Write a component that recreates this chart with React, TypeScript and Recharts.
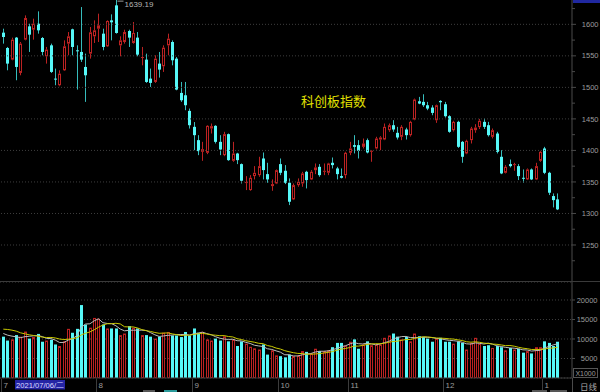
import React from 'react';
import { ComposedChart, Bar, Line, XAxis, YAxis, ReferenceLine, CartesianGrid } from 'recharts';

// Daily candles, 2021-07-01 .. 2022-01-07 (index 0 = first visible day)
const open = [
  1586.8, 1562.5, 1544.0, 1578.9, 1522.9, 1575.7, 1596.8, 1591.5, 1601.0, 1578.3,
  1549.3, 1566.7, 1513.9, 1503.4, 1527.1, 1569.4, 1592.1, 1558.8, 1556.2, 1532.4,
  1553.5, 1581.0, 1593.1, 1585.2, 1565.1, 1606.3, 1630.1, 1566.7, 1572.0, 1589.4,
  1570.4, 1578.9, 1546.7, 1544.0, 1513.9, 1508.6, 1537.7, 1533.5, 1566.7, 1572.0,
  1545.6, 1491.2, 1487.5, 1462.7, 1437.4, 1416.3, 1397.8, 1396.2, 1434.8, 1439.0,
  1413.6, 1392.5, 1425.8, 1383.5, 1395.1, 1378.3, 1348.7, 1337.1, 1359.3, 1360.8,
  1387.2, 1362.4, 1343.4, 1347.6, 1378.3, 1367.7, 1348.7, 1322.3, 1345.0, 1347.6,
  1366.1, 1354.0, 1368.7, 1374.0, 1366.1, 1364.5, 1380.4, 1371.4, 1359.3, 1360.8,
  1396.2, 1408.4, 1408.4, 1405.7, 1416.3, 1397.8, 1403.1, 1417.3, 1417.3, 1432.1,
  1440.0, 1427.9, 1421.6, 1433.2, 1424.2, 1449.0, 1478.0, 1477.0, 1471.7, 1468.0,
  1447.9, 1478.5, 1473.3, 1454.3, 1432.1, 1445.3, 1413.6, 1395.2, 1416.3, 1432.1,
  1437.0, 1445.3, 1440.0, 1421.6, 1426.8, 1389.9, 1364.5, 1378.3, 1376.7, 1375.1,
  1356.6, 1354.0, 1369.8, 1354.0, 1383.5, 1403.1, 1364.5, 1327.6, 1322.3,
];
const high = [
  1593.1, 1564.1, 1578.9, 1579.9, 1572.0, 1614.2, 1601.0, 1609.0, 1620.6, 1579.9,
  1564.1, 1569.4, 1529.8, 1527.1, 1574.6, 1587.8, 1593.1, 1566.7, 1627.4, 1553.5,
  1595.8, 1606.3, 1616.9, 1593.1, 1606.3, 1615.8, 1639.19, 1581.0, 1591.5, 1591.5,
  1603.7, 1587.8, 1564.1, 1553.5, 1529.8, 1550.9, 1556.2, 1566.7, 1585.2, 1574.6,
  1548.2, 1508.6, 1508.6, 1466.4, 1445.0, 1424.2, 1413.6, 1440.0, 1442.7, 1440.0,
  1424.2, 1429.5, 1426.8, 1413.6, 1396.2, 1379.3, 1359.2, 1360.8, 1375.1, 1389.9,
  1396.7, 1380.4, 1354.0, 1369.8, 1387.2, 1376.7, 1355.6, 1347.6, 1355.6, 1366.1,
  1367.7, 1368.8, 1379.3, 1378.3, 1379.3, 1380.4, 1388.8, 1374.0, 1371.4, 1397.8,
  1413.6, 1424.2, 1416.3, 1418.9, 1418.9, 1400.4, 1421.6, 1422.6, 1442.7, 1442.7,
  1448.0, 1437.4, 1440.0, 1436.0, 1447.0, 1482.2, 1484.9, 1489.1, 1477.0, 1471.7,
  1472.7, 1479.6, 1477.0, 1455.8, 1447.0, 1447.0, 1415.0, 1417.0, 1437.4, 1441.6,
  1450.0, 1450.6, 1445.3, 1434.8, 1429.5, 1400.4, 1376.7, 1385.6, 1380.4, 1378.3,
  1369.8, 1371.4, 1371.4, 1380.4, 1399.4, 1405.7, 1366.1, 1331.8, 1331.8,
];
const low = [
  1569.4, 1527.1, 1543.0, 1511.3, 1519.2, 1574.6, 1556.2, 1575.7, 1585.2, 1550.9,
  1537.7, 1522.9, 1503.4, 1501.8, 1526.1, 1550.9, 1550.9, 1496.5, 1540.3, 1477.0,
  1545.6, 1570.4, 1572.0, 1558.8, 1564.1, 1574.6, 1585.2, 1549.3, 1569.4, 1564.1,
  1569.4, 1549.3, 1535.0, 1507.1, 1500.7, 1507.1, 1515.5, 1524.5, 1550.9, 1535.0,
  1495.4, 1477.0, 1463.8, 1434.7, 1400.4, 1392.5, 1383.5, 1394.1, 1426.8, 1411.0,
  1392.5, 1390.9, 1383.5, 1382.0, 1378.3, 1347.6, 1337.1, 1336.0, 1354.0, 1358.2,
  1354.0, 1348.7, 1336.0, 1346.6, 1360.8, 1346.6, 1313.3, 1321.2, 1342.4, 1342.4,
  1339.7, 1353.0, 1362.4, 1358.2, 1360.8, 1360.8, 1371.4, 1354.0, 1355.6, 1355.6,
  1392.5, 1395.2, 1387.2, 1403.1, 1395.2, 1382.0, 1401.5, 1400.4, 1416.3, 1429.5,
  1429.5, 1417.3, 1416.3, 1417.3, 1422.0, 1447.9, 1473.3, 1469.0, 1463.8, 1455.8,
  1443.7, 1463.8, 1452.1, 1428.0, 1430.0, 1404.0, 1380.4, 1394.0, 1411.0, 1428.0,
  1434.0, 1434.0, 1422.0, 1419.0, 1395.2, 1362.4, 1363.5, 1373.0, 1367.7, 1353.0,
  1348.7, 1353.0, 1353.0, 1353.0, 1382.0, 1362.4, 1329.2, 1309.6, 1305.4,
];
const close = [
  1579.9, 1537.7, 1575.7, 1532.4, 1569.4, 1610.0, 1583.6, 1601.0, 1590.5, 1556.2,
  1559.9, 1524.5, 1512.9, 1521.8, 1565.1, 1581.0, 1564.1, 1557.2, 1544.0, 1519.2,
  1587.3, 1590.5, 1598.4, 1564.1, 1605.3, 1603.2, 1586.3, 1574.6, 1587.8, 1578.9,
  1586.3, 1551.9, 1548.2, 1508.6, 1507.1, 1545.6, 1528.2, 1563.0, 1577.3, 1543.0,
  1496.5, 1479.6, 1471.7, 1440.0, 1424.2, 1398.9, 1402.0, 1439.0, 1438.5, 1413.6,
  1401.5, 1425.8, 1384.6, 1395.1, 1384.6, 1351.9, 1349.8, 1356.6, 1364.5, 1375.1,
  1368.8, 1354.0, 1346.6, 1368.7, 1364.5, 1348.7, 1318.6, 1345.0, 1350.3, 1363.5,
  1352.9, 1366.1, 1373.0, 1360.8, 1367.7, 1379.3, 1376.7, 1362.4, 1356.6, 1396.2,
  1403.1, 1405.7, 1399.4, 1411.0, 1396.7, 1399.4, 1418.9, 1420.5, 1437.4, 1440.0,
  1433.2, 1420.5, 1437.4, 1424.2, 1445.3, 1480.7, 1474.3, 1471.7, 1466.4, 1459.5,
  1471.7, 1476.4, 1454.3, 1429.5, 1445.3, 1405.7, 1389.9, 1415.2, 1434.8, 1436.3,
  1447.0, 1437.4, 1424.2, 1432.1, 1397.8, 1363.5, 1374.0, 1375.1, 1378.3, 1359.3,
  1355.6, 1369.8, 1354.0, 1375.1, 1397.8, 1364.5, 1332.9, 1321.2, 1306.5,
];
const volume = [
  10600, 9600, 9900, 11000, 10600, 11900, 10100, 10500, 11300, 9300,
  9600, 9800, 8600, 8200, 9400, 12600, 11600, 12600, 18700, 13700,
  12900, 15400, 15200, 13700, 12700, 12700, 12700, 11000, 11400, 13300,
  12900, 12700, 11000, 11000, 10600, 10100, 10600, 11600, 11800, 10900,
  10900, 10500, 11800, 10900, 12700, 11600, 11800, 9900, 9600, 10100,
  9600, 10700, 9400, 9900, 8200, 9400, 8800, 8000, 7600, 7300,
  8600, 6000, 7100, 5800, 5600, 5300, 6000, 5600, 5800, 6900,
  6700, 6300, 7500, 6900, 6900, 7100, 7900, 9000, 9000, 8300,
  9300, 9900, 7500, 8600, 9400, 8400, 8600, 8600, 10300, 10900,
  11400, 10600, 9900, 10500, 9400, 11400, 10700, 10500, 10100, 9300,
  10100, 10300, 9300, 9300, 8800, 9400, 9000, 7300, 9000, 10300,
  8800, 8200, 8400, 7700, 8200, 7900, 7100, 7700, 7300, 7500,
  6500, 6900, 6300, 7900, 7900, 9400, 9000, 8200, 9300,
];
const volumeMa5 = [
  11410, 10980, 10730, 10560, 10340, 10600, 10700, 10820, 10880, 10620,
  10160, 10100, 9720, 9100, 9120, 9720, 10080, 10880, 12980, 13840,
  13900, 14660, 15180, 14180, 13980, 13940, 13400, 12560, 12100, 12220,
  12260, 12260, 12260, 12180, 11640, 11080, 10660, 10780, 10940, 11000,
  11160, 11140, 11180, 11000, 11360, 11500, 11760, 11380, 11120, 10600,
  10200, 9980, 9880, 9940, 9560, 9520, 9140, 8860, 8400, 8220,
  8060, 7500, 7320, 6960, 6620, 5960, 5960, 5660, 5660, 5920,
  6200, 6260, 6640, 6860, 6860, 6940, 7260, 7560, 7980, 8260,
  8700, 9100, 8800, 8720, 8940, 8760, 8500, 8720, 9060, 9360,
  9960, 10360, 10620, 10660, 10360, 10360, 10380, 10500, 10420, 10400,
  10140, 10060, 9820, 9660, 9560, 9420, 9160, 8760, 8700, 9000,
  8880, 8720, 8940, 8680, 8260, 8080, 7860, 7720, 7640, 7500,
  7220, 7180, 6900, 7020, 7100, 7680, 8100, 8480, 8760,
];
const volumeMa10 = [
  12520, 12440, 12270, 12010, 11580, 11320, 11070, 10900, 10730, 10480,
  10380, 10400, 10270, 9990, 9870, 9940, 10090, 10300, 11040, 11480,
  11810, 12370, 13030, 13580, 13910, 13920, 14030, 13870, 13140, 13100,
  13100, 12830, 12410, 12140, 11930, 11670, 11460, 11520, 11560, 11320,
  11120, 10900, 10980, 10970, 11180, 11330, 11450, 11280, 11060, 10980,
  10850, 10870, 10630, 10530, 10080, 9860, 9560, 9370, 9170, 8890,
  8790, 8320, 8090, 7680, 7420, 7010, 6730, 6490, 6310, 6270,
  6080, 6110, 6150, 6260, 6390, 6570, 6760, 7100, 7420, 7560,
  7820, 8180, 8180, 8350, 8600, 8730, 8800, 8760, 8890, 9150,
  9360, 9430, 9670, 9860, 9860, 10160, 10370, 10560, 10540, 10380,
  10250, 10220, 10160, 10040, 9980, 9780, 9610, 9290, 9180, 9280,
  9150, 8940, 8850, 8690, 8630, 8480, 8290, 8330, 8160, 7880,
  7650, 7520, 7310, 7330, 7300, 7450, 7640, 7690, 7890,
];
// month boundaries (between trading days) and their labels
const monthTickPos = [-0.5, 21.5, 43.5, 63.5, 79.5, 101.5, 124.5];
const monthLabels = ['7', '8', '9', '10', '11', '12', '1'];
const priceGrid = [1250, 1300, 1350, 1400, 1450, 1500, 1550, 1600];
const priceTicks = [1225, 1250, 1275, 1300, 1325, 1350, 1375, 1400, 1425, 1450, 1475, 1500, 1525, 1550, 1575, 1600, 1625];
const volumeTicks = [5000, 10000, 15000, 20000];
const title = '科创板指数';
const cursorDate = '2021/07/06/二';

const CYAN = '#56f8f8';
const CYAN_WICK = '#36bcbc';
const RED = '#bc2222';
const AXIS = '#4a4a4a';
const GRID = '#3e3e3e';
const LABEL = '#9c9c9c';
const FONT = '"Liberation Sans", Arial, sans-serif';

const X_DOMAIN: [number, number] = [-0.762, 131.34];

const maxHigh = Math.max(...high);
const rows = open.map((o, i) => ({
  i,
  open: o,
  high: high[i],
  low: low[i],
  close: close[i],
  range: [low[i], high[i]],
  volume: volume[i],
  ma5: volumeMa5[i],
  ma10: volumeMa10[i],
  up: close[i] >= o,
  isMax: high[i] === maxHigh,
}));

function Candle(props: any) {
  const { x, y, width, height, payload } = props;
  if (x == null || payload == null) return null;
  const top = Math.min(y, y + height);
  const h = Math.abs(height);
  const span = payload.high - payload.low;
  const k = span > 0 ? h / span : 0;
  const py = (v: number) => top + (payload.high - v) * k;
  const cx = x + width / 2;
  const bx = Math.round(cx - 1.5);
  const wx = bx + 1.5;
  const bt = py(Math.max(payload.open, payload.close));
  const bb = py(Math.min(payload.open, payload.close));
  const bh = Math.max(1, bb - bt);
  const label = payload.isMax ? (
    <g>
      <line x1={wx + 1} x2={wx + 7} y1={top + 1.5} y2={top + 1.5} stroke="#9a9a9a" strokeWidth={1} />
      <text x={wx + 8} y={top + 7.5} fill="#b4b4b4" fontSize={8} fontFamily={FONT}>
        {payload.high.toFixed(2)}
      </text>
    </g>
  ) : null;
  if (payload.up) {
    return (
      <g>
        <line x1={wx} x2={wx} y1={top} y2={bt} stroke={RED} strokeWidth={1} />
        <line x1={wx} x2={wx} y1={bt + bh} y2={top + h} stroke={RED} strokeWidth={1} />
        {bh > 2 ? (
          <rect x={bx + 0.5} y={bt + 0.5} width={2} height={bh - 1} fill="none" stroke={RED} strokeWidth={1} />
        ) : (
          <rect x={bx} y={bt} width={3} height={bh} fill={RED} />
        )}
        {label}
      </g>
    );
  }
  return (
    <g>
      <line x1={wx} x2={wx} y1={top} y2={top + h} stroke={CYAN_WICK} strokeWidth={1} />
      <rect x={bx} y={bt} width={3} height={bh} fill={CYAN} />
      {label}
    </g>
  );
}

function VolBar(props: any) {
  const { x, y, width, height, payload } = props;
  if (x == null || payload == null) return null;
  const top = Math.min(y, y + height);
  const h = Math.abs(height);
  const bx = Math.round(x + width / 2 - 1.5);
  if (payload.up) {
    return <rect x={bx + 0.5} y={top + 0.5} width={2} height={Math.max(0, h - 1)} fill="none" stroke={RED} strokeWidth={1} />;
  }
  return <rect x={bx} y={top} width={3} height={h} fill={CYAN} />;
}

function PriceTick(props: any) {
  const { y, payload } = props;
  const v = payload.value;
  const major = v % 50 === 0;
  return (
    <g>
      <line x1={572} x2={major ? 576 : 575} y1={y} y2={y} stroke={AXIS} strokeWidth={1} />
      {major ? (
        <text x={598.5} y={y + 2.6} textAnchor="end" fill={LABEL} fontSize={7.5} fontFamily={FONT}>
          {v}
        </text>
      ) : null}
    </g>
  );
}

function VolTick(props: any) {
  const { y, payload } = props;
  return (
    <g>
      <line x1={572} x2={575} y1={y} y2={y} stroke={AXIS} strokeWidth={1} />
      <text x={597.5} y={y + 2.6} textAnchor="end" fill={LABEL} fontSize={7.5} fontFamily={FONT}>
        {payload.value}
      </text>
    </g>
  );
}

function MonthTick(props: any) {
  const { x, payload, index } = props;
  const lx = Math.round(x) + 0.5;
  const idx = monthTickPos.indexOf(payload.value);
  const text = monthLabels[idx >= 0 ? idx : index];
  return (
    <g>
      <line x1={lx} x2={lx} y1={97} y2={110} stroke="#3c3c3c" strokeWidth={1} />
      <text x={lx + 2} y={105.5} fill={LABEL} fontSize={8} fontFamily={FONT}>
        {text}
      </text>
    </g>
  );
}

export default function App() {
  return (
    <div style={{ position: 'relative', width: 600, height: 392, background: '#000', overflow: 'hidden' }}>
      <style>{'html,body{margin:0;padding:0;background:#000;}'}</style>
      <div style={{ position: 'absolute', left: 0, top: 0 }}>
        <ComposedChart width={600} height={282} data={rows} margin={{ top: 0, right: 0, bottom: 0, left: 0 }}>
          <XAxis dataKey="i" type="number" domain={X_DOMAIN} allowDataOverflow hide />
          <YAxis
            orientation="right"
            width={28}
            domain={[1191.3, 1638.6]}
            allowDataOverflow
            ticks={priceTicks}
            interval={0}
            tick={<PriceTick />}
            tickLine={false}
            axisLine={{ stroke: AXIS }}
          />
          {priceGrid.map((v) => (
            <ReferenceLine key={v} y={v} stroke={GRID} strokeDasharray="1 2" />
          ))}
          <Bar dataKey="range" barSize={3} shape={<Candle />} isAnimationActive={false} />
        </ComposedChart>
      </div>
      <div style={{ position: 'absolute', left: 0, top: 282 }}>
        <ComposedChart width={600} height={110} data={rows} margin={{ top: 0, right: 0, bottom: 0, left: 0 }}>
          <XAxis
            dataKey="i"
            type="number"
            domain={X_DOMAIN}
            allowDataOverflow
            ticks={monthTickPos}
            interval={0}
            height={14}
            tick={<MonthTick />}
            tickLine={false}
            axisLine={{ stroke: '#3a3a3a' }}
          />
          <YAxis
            orientation="right"
            width={28}
            domain={[0, 24615]}
            allowDataOverflow
            ticks={volumeTicks}
            interval={0}
            tick={<VolTick />}
            tickLine={false}
            axisLine={{ stroke: AXIS }}
          />
          <CartesianGrid vertical={false} stroke={GRID} strokeDasharray="1 2" />
          <Bar dataKey="volume" barSize={3} shape={<VolBar />} isAnimationActive={false} />
          <Line type="linear" dataKey="ma5" stroke="#bcbcbc" strokeWidth={1} dot={false} isAnimationActive={false} />
          <Line type="linear" dataKey="ma10" stroke="#c8c800" strokeWidth={1} dot={false} isAnimationActive={false} />
        </ComposedChart>
      </div>
      <svg width={600} height={392} style={{ position: 'absolute', left: 0, top: 0, pointerEvents: 'none' }}>
        <line x1={0} x2={600} y1={281.5} y2={281.5} stroke="#3a3a3a" strokeWidth={1} />
        <line x1={572.5} x2={572.5} y1={378} y2={392} stroke={AXIS} strokeWidth={1} />
        <rect x={573} y={-6} width={27} height={9} fill="#2028a0" />
        <text x={301} y={105.5} fill="#e2e200" fontSize={13} fontFamily='"Noto Sans CJK SC", sans-serif'>
          {title}
        </text>
        <rect x={15} y={380} width={50} height={9.5} fill="#2424a4" />
        <text x={16} y={387.6} fill="#dcdcff" fontSize={7.6} fontFamily={FONT}>
          {cursorDate}
        </text>
        <rect x={573.5} y={368.5} width={24} height={9} fill="none" stroke="#555" strokeWidth={1} />
        <text x={585.5} y={376} textAnchor="middle" fill={LABEL} fontSize={7} fontFamily={FONT}>
          X1000
        </text>
        <text x={580} y={389.5} fill="#a8a8a8" fontSize={8.5} fontFamily='"Noto Sans CJK SC", sans-serif'>
          日线
        </text>
        <rect x={143} y={390} width={12} height={2} fill="#555" />
        <rect x={164} y={390} width={13} height={2} fill="#2a9a9a" />
        <rect x={532} y={390} width={15} height={2} fill="#555" />
        <rect x={550} y={390} width={17} height={2} fill="#555" />
      </svg>
    </div>
  );
}
